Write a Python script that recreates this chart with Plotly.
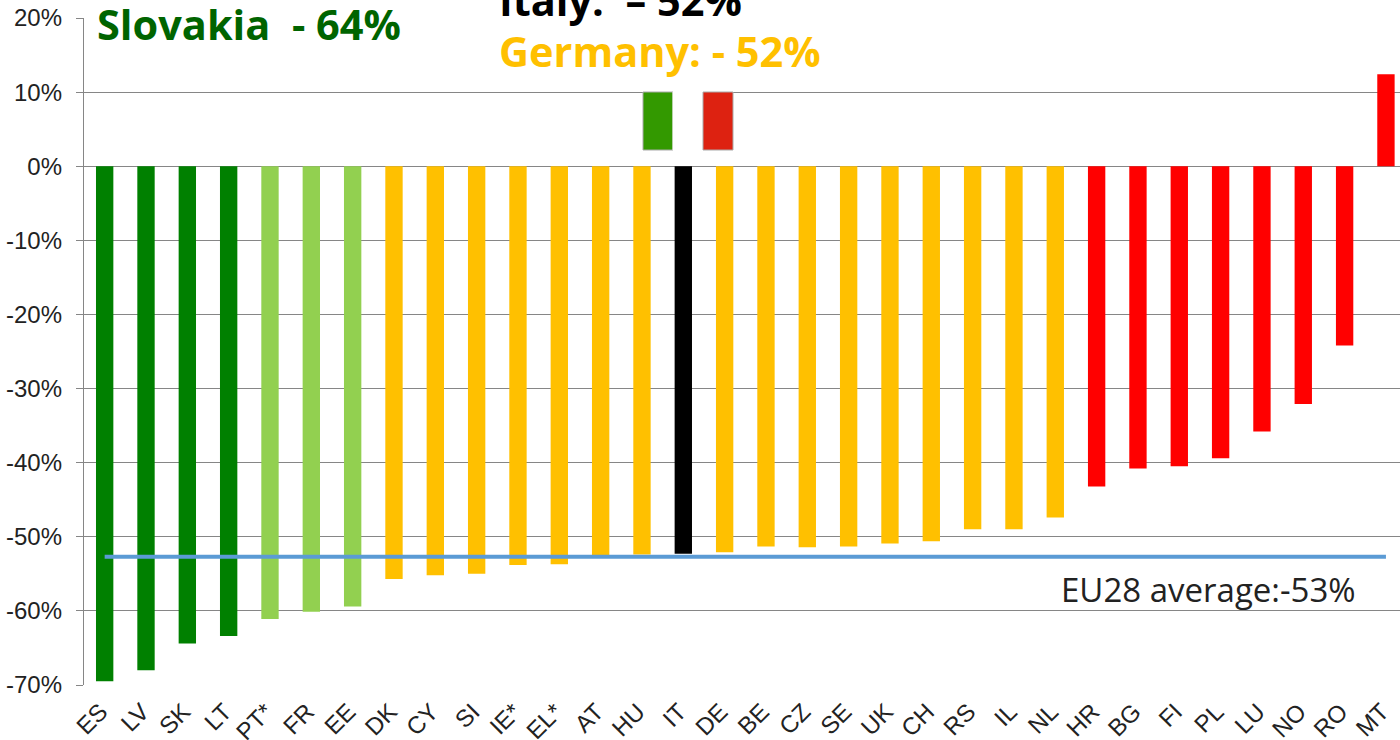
import plotly.graph_objects as go

countries = ["ES","LV","SK","LT","PT*","FR","EE","DK","CY","SI","IE*","EL*","AT","HU","IT","DE","BE","CZ","SE","UK","CH","RS","IL","NL","HR","BG","FI","PL","LU","NO","RO","MT"]
values = [-69.5,-68.0,-64.4,-63.4,-61.1,-60.1,-59.4,-55.7,-55.2,-55.0,-53.8,-53.7,-52.6,-52.4,-52.3,-52.1,-51.3,-51.4,-51.3,-50.9,-50.6,-49.0,-49.0,-47.4,-43.2,-40.8,-40.5,-39.4,-35.8,-32.1,-24.2,12.4]
colors = ["#008000"]*4 + ["#92D050"]*3 + ["#FFC000"]*7 + ["#000000"] + ["#FFC000"]*9 + ["#FF0000"]*8
eu_average = [-52.7]*len(countries)

W, H = 1400, 740
L, T, B = 84, 18, 55

fig = go.Figure()
fig.add_bar(x=list(range(32)), y=values, marker=dict(color=colors, line_width=0), width=0.42)
fig.add_scatter(x=list(range(32)), y=eu_average, mode="lines", line=dict(color="#5B9BD5", width=4))

def label(text, x, y, color, size, bold=True):
    fig.add_annotation(text=text, xref="paper", yref="paper", x=(x-L)/(W-L), y=(H-B-y)/(H-B-T),
                       xanchor="left", yanchor="middle", showarrow=False, align="left",
                       font=dict(family="Open Sans", size=size, color=color, weight=700 if bold else 400))

label("Slovakia\u00a0\u00a0- 64%", 95, 24, "#006400", 41.5)
label("Italy:\u00a0\u00a0\u2013 52%", 497, 0, "#000000", 41.5)
label("Germany: - 52%", 497, 51, "#FFC000", 41.5)
label("EU28 average:-53%", 1059, 589, "#222222", 33, bold=False)

for x0, x1, c, lc in [(643,673,"#339900","#AAAAAA"),(673,703,"#FFFFFF","#FFFFFF"),(703,733,"#DD2211","#AAAAAA")]:
    fig.add_shape(type="rect", xref="paper", yref="paper",
                  x0=(x0-L)/(W-L), x1=(x1-L)/(W-L), y0=(H-B-150)/(H-B-T), y1=(H-B-92)/(H-B-T),
                  fillcolor=c, line=dict(width=1, color=lc), layer="above")

fig.update_layout(
    width=W, height=H, autosize=False, showlegend=False, plot_bgcolor="white", paper_bgcolor="white",
    margin=dict(l=L, r=0, t=T, b=B, pad=0),
    font=dict(family="Liberation Sans", color="#222222"),
    xaxis=dict(range=[-0.5, 31.34], tickvals=list(range(32)), ticktext=countries, tickangle=-45,
               tickfont=dict(size=24, color="#222222"), showgrid=False, zeroline=False, ticks="",
               showline=False, ticklabelstandoff=7, ticklabelshift=-4, automargin=False),
    yaxis=dict(range=[-70, 20], tickvals=list(range(-70, 21, 10)),
               ticktext=[f"{v}%" for v in range(-70, 21, 10)], tickfont=dict(size=24, color="#222222"),
               showgrid=True, gridcolor="#868686", gridwidth=1.3, zeroline=False, automargin=False,
               showline=True, linecolor="#868686", linewidth=1.3, ticks="outside", ticklen=7,
               tickcolor="#868686", tickwidth=1.3, ticklabelstandoff=9),
)
fig.write_html("out.html", config={"displayModeBar": False},
               post_script="document.body.style.margin='0';document.body.style.overflow='hidden';")
